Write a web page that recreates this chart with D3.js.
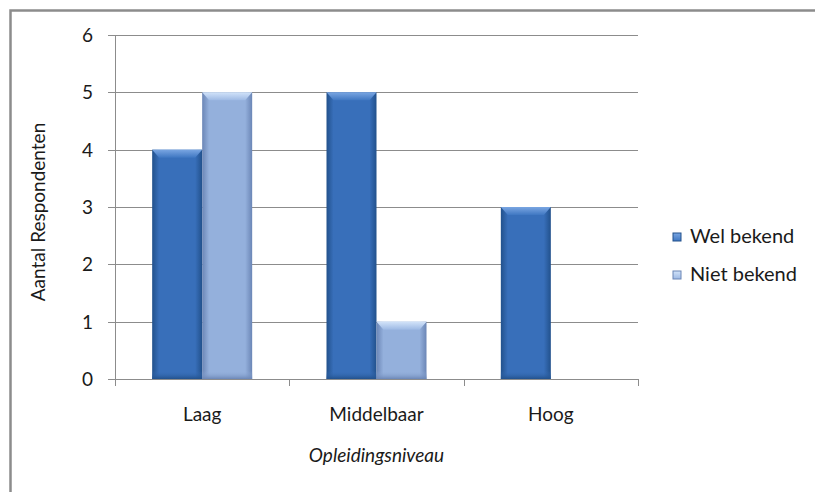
<!DOCTYPE html>
<html>
<head>
<meta charset="utf-8">
<script src="https://cdn.jsdelivr.net/npm/d3@7"></script>
<style>
  body { margin: 0; background: #fff; }
  text { font-family: Lato, "Open Sans", sans-serif; fill: #1a1a1a; }
</style>
</head>
<body>
<script>
// chart data
var categories = ['Laag', 'Middelbaar', 'Hoog']
var seriesNames = ['Wel bekend', 'Niet bekend']
var welBekend = [4, 5, 3]
var nietBekend = [5, 1, 0]
var yTicks = [0, 1, 2, 3, 4, 5, 6]

var svg = d3.select('body').append('svg')
    .attr('width', 815).attr('height', 492)

var margin = {left: 115, right: 638, top: 35, bottom: 379}
var fs = 19

// outer frame (right and bottom edges fall outside the picture)
svg.append('rect')
    .attr('x', 10.5).attr('y', 10.5).attr('width', 820).attr('height', 500)
    .attr('fill', 'none').attr('stroke', '#8c8c8c').attr('stroke-width', 2.5)

var y = d3.scaleLinear().domain([0, 6]).range([margin.bottom, margin.top])
var x = d3.scaleBand().domain(categories).range([margin.left, margin.right])
var inner = d3.scaleBand().domain(seriesNames).range([0, 100])

var defs = svg.append('defs')
var palettes = [
  {edge: '#22518c', mid: '#386fba', top: '#7aa6e2', topEdge: '#3f77c2'},
  {edge: '#6b86b6', mid: '#94b0dc', top: '#d2e3f9', topEdge: '#9db9e4'}
]
palettes.forEach(function(p, i) {
  var g = defs.append('linearGradient').attr('id', 'body' + i)
      .attr('x1', 0).attr('x2', 1).attr('y1', 0).attr('y2', 0)
  g.append('stop').attr('offset', '0%').attr('stop-color', p.edge)
  g.append('stop').attr('offset', '14%').attr('stop-color', p.mid)
  g.append('stop').attr('offset', '86%').attr('stop-color', p.mid)
  g.append('stop').attr('offset', '100%').attr('stop-color', p.edge)
  var t = defs.append('linearGradient').attr('id', 'top' + i)
      .attr('x1', 0).attr('x2', 0).attr('y1', 0).attr('y2', 1)
  t.append('stop').attr('offset', '0%').attr('stop-color', p.top)
  t.append('stop').attr('offset', '100%').attr('stop-color', p.topEdge)
  var b = defs.append('linearGradient').attr('id', 'bot' + i)
      .attr('x1', 0).attr('x2', 0).attr('y1', 0).attr('y2', 1)
  b.append('stop').attr('offset', '0%').attr('stop-color', p.mid).attr('stop-opacity', 0)
  b.append('stop').attr('offset', '100%').attr('stop-color', p.edge)
})

// gridlines
svg.selectAll('.grid').data(yTicks).enter().append('line')
    .attr('class', 'grid')
    .attr('x1', margin.left - 7).attr('x2', margin.right)
    .attr('y1', function(d){return Math.round(y(d)) + 0.5})
    .attr('y2', function(d){return Math.round(y(d)) + 0.5})
    .attr('stroke', '#8c8c8c')

// y axis line
svg.append('line')
    .attr('x1', margin.left + 0.5).attr('x2', margin.left + 0.5)
    .attr('y1', margin.top).attr('y2', margin.bottom)
    .attr('stroke', '#8c8c8c')

// category tick marks
var xTickPos = categories.map(function(c){return x(c)}).concat([margin.right])
svg.selectAll('.xtick').data(xTickPos).enter().append('line')
    .attr('x1', function(d){return Math.round(d) + 0.5})
    .attr('x2', function(d){return Math.round(d) + 0.5})
    .attr('y1', margin.bottom).attr('y2', margin.bottom + 7)
    .attr('stroke', '#8c8c8c')

// y tick labels
svg.selectAll('.ylab').data(yTicks).enter().append('text')
    .attr('x', 93).attr('y', function(d){return y(d) + 7})
    .attr('text-anchor', 'end').attr('font-size', fs)
    .text(function(d){return d})

// bars
var rows = []
categories.forEach(function(c, i) {
  rows.push({cat: c, s: 0, v: welBekend[i]})
  rows.push({cat: c, s: 1, v: nietBekend[i]})
})
var barW = inner.bandwidth()
var bars = svg.selectAll('.bar').data(rows.filter(function(d){return d.v > 0}))
    .enter().append('g').attr('class', 'bar')
    .attr('transform', function(d){
      var bx = x(d.cat) + (x.bandwidth() - 100) / 2 + inner(seriesNames[d.s])
      return 'translate(' + bx + ',' + y(d.v) + ')'
    })
bars.append('rect')
    .attr('width', barW)
    .attr('height', function(d){return y(0) - y(d.v)})
    .attr('fill', function(d){return 'url(#body' + d.s + ')'})
bars.append('rect')
    .attr('x', 0).attr('y', function(d){return y(0) - y(d.v) - 8})
    .attr('width', barW).attr('height', 8)
    .attr('fill', function(d){return 'url(#bot' + d.s + ')'})
bars.append('path')
    .attr('d', 'M0,0 L' + barW + ',0 L' + (barW - 7) + ',8 L7,8 Z')
    .attr('fill', function(d){return 'url(#top' + d.s + ')'})

// category labels
svg.selectAll('.xlab').data(categories).enter().append('text')
    .attr('x', function(d){return x(d) + x.bandwidth() / 2})
    .attr('y', 421).attr('text-anchor', 'middle').attr('font-size', fs)
    .text(function(d){return d})

// axis titles
svg.append('text')
    .attr('transform', 'translate(45,' + 212 + ') rotate(-90)')
    .attr('text-anchor', 'middle').attr('font-size', fs)
    .text('Aantal Respondenten')
svg.append('text')
    .attr('x', (margin.left + margin.right) / 2).attr('y', 462)
    .attr('text-anchor', 'middle').attr('font-size', fs).attr('font-style', 'italic')
    .text('Opleidingsniveau')

// legend
var legend = svg.selectAll('.legend').data(seriesNames).enter().append('g')
    .attr('transform', function(d, i){return 'translate(673,' + (233 + i * 38) + ')'})
legend.append('rect').attr('width', 8).attr('height', 8)
    .attr('fill', function(d, i){return 'url(#top' + i + ')'})
    .attr('stroke', function(d, i){return palettes[i].edge})
legend.append('text').attr('x', 17).attr('y', 10).attr('font-size', 20)
    .text(function(d){return d})
</script>
</body>
</html>
